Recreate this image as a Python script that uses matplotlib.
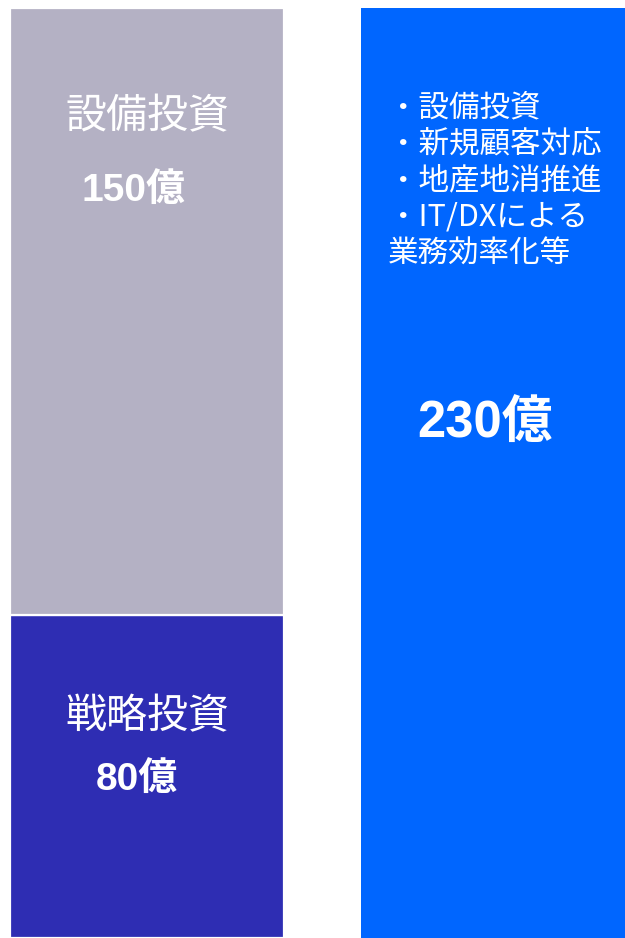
import matplotlib.pyplot as plt

# values (億円)
left_segments = ['戦略投資', '設備投資']
left_values = [80, 150]
right_value = 230
right_items = ['・設備投資', '・新規顧客対応', '・地産地消推進', '・IT/DXによる', '業務効率化等']

col_strategic = '#2E2DB3'
col_equipment = '#B4B1C4'
col_total = '#0066FF'

jp = ['Noto Sans CJK JP', 'DejaVu Sans']
num = ['Liberation Sans', 'Noto Sans CJK JP']

fig = plt.figure(figsize=(6.25, 9.38), dpi=100)
ax = fig.add_axes([0, 0, 1, 1])
w = 0.78

# left stacked bar
ax.bar(0, left_values[0], width=w, color=col_strategic, edgecolor='white', linewidth=1.6)
ax.bar(0, left_values[1], bottom=left_values[0], width=w, color=col_equipment,
       edgecolor='white', linewidth=1.6)
# right bar
ax.bar(1, right_value, width=w, color=col_total, linewidth=0)

# labels in the lower segment
b0 = left_values[0]
ax.text(0, b0 * 0.685, left_segments[0], ha='center', va='center', color='white',
        fontsize=29.5, family=jp)
ax.text(-0.03, b0 * 0.49, f'{left_values[0]}億', ha='center', va='center', color='white',
        fontsize=28, fontweight='bold', family=num)

# labels in the upper segment
ax.text(0, left_values[0] + left_values[1] * 0.82, left_segments[1], ha='center', va='center',
        color='white', fontsize=29.5, family=jp)
ax.text(-0.04, left_values[0] + left_values[1] * 0.698, f'{left_values[1]}億', ha='center',
        va='center', color='white', fontsize=28, fontweight='bold', family=num)

# right bar: item list and total
step = right_value * 0.0393
y0 = right_value * 0.893
for i, item in enumerate(right_items):
    ax.text(0.686, y0 - i * step, item, ha='left', va='center', color='white',
            fontsize=22, family=jp)
ax.text(0.963, right_value * 0.552, f'{right_value}億', ha='center', va='center', color='white',
        fontsize=36.5, fontweight='bold', family=num)

ax.set_xlim(-0.419, -0.419 + 625 / 351)
ax.set_ylim(0, 232)
ax.axis('off')

fig.savefig('out.png', dpi=100)
